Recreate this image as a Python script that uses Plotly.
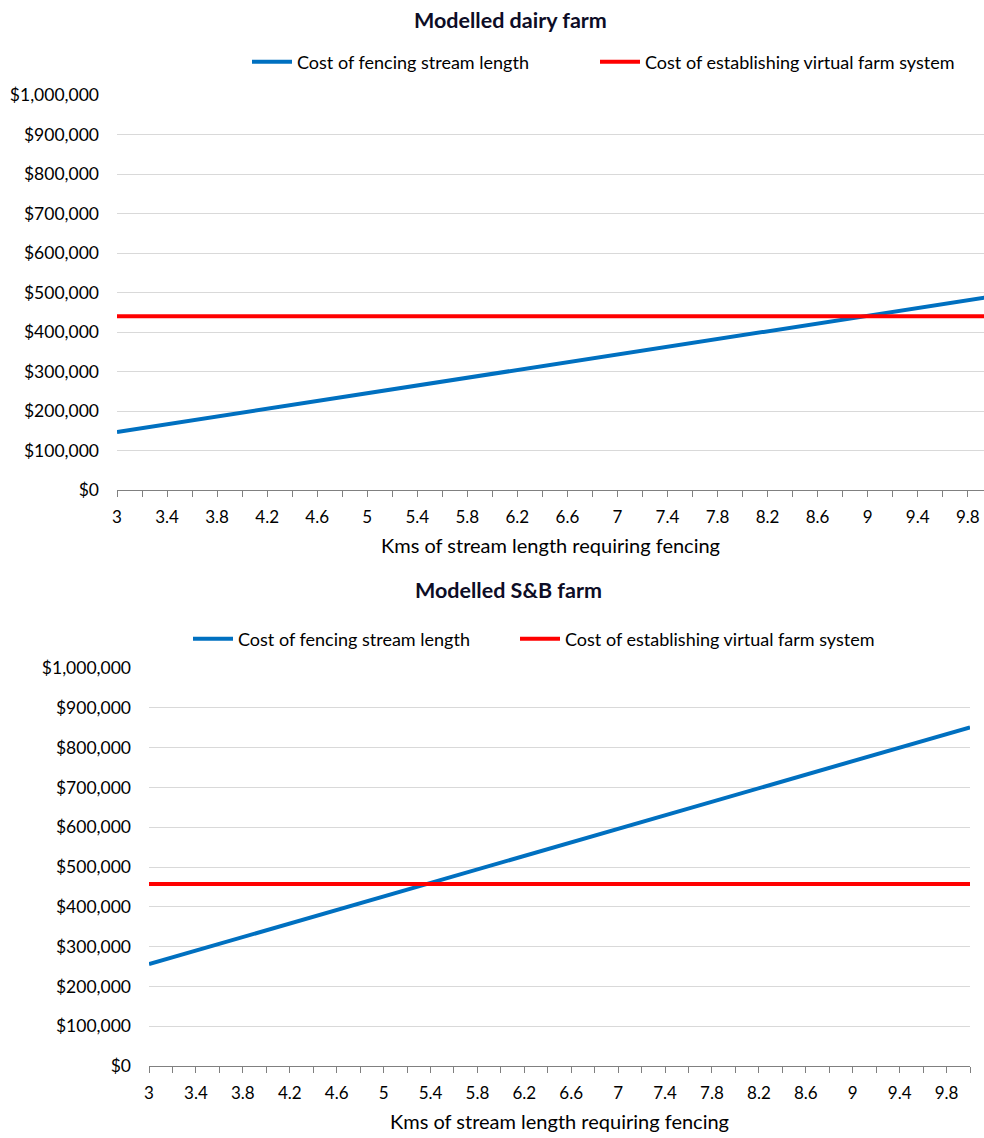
import plotly.graph_objects as go

# ---- data ----
kms = [3, 4, 5, 6, 7, 8, 9, 10]
dairy_fencing_cost = [147000, 196000, 245000, 294000, 343000, 392000, 441000, 490000]
dairy_virtual_cost = [440000] * len(kms)
sb_fencing_cost = [256000, 341000, 426000, 511000, 596000, 681000, 766000, 851000]
sb_virtual_cost = [457000] * len(kms)

series_names = ["Cost of fencing stream length", "Cost of establishing virtual farm system"]
chart_titles = ["Modelled dairy farm", "Modelled S&B farm"]
x_title = "Kms of stream length requiring fencing"
y_ticks = [0, 100000, 200000, 300000, 400000, 500000, 600000, 700000, 800000, 900000, 1000000]
y_ticklabels = ["$0", "$100,000", "$200,000", "$300,000", "$400,000", "$500,000",
                "$600,000", "$700,000", "$800,000", "$900,000", "$1,000,000"]

BLUE = "#0070C0"
RED = "#FF0000"
FONT = "Lato"
W, H = 984, 1138

def py(px):
    return 1 - px / H

fig = go.Figure()
fig.add_trace(go.Scatter(x=kms, y=dairy_fencing_cost, mode="lines", name=series_names[0],
                         line=dict(color=BLUE, width=4), xaxis="x", yaxis="y", legend="legend"))
fig.add_trace(go.Scatter(x=kms, y=dairy_virtual_cost, mode="lines", name=series_names[1],
                         line=dict(color=RED, width=4), xaxis="x", yaxis="y", legend="legend2"))
fig.add_trace(go.Scatter(x=kms, y=sb_fencing_cost, mode="lines", name=series_names[0],
                         line=dict(color=BLUE, width=4), xaxis="x2", yaxis="y2", legend="legend3"))
fig.add_trace(go.Scatter(x=kms, y=sb_virtual_cost, mode="lines", name=series_names[1],
                         line=dict(color=RED, width=4), xaxis="x2", yaxis="y2", legend="legend4"))

def xaxis(domain, rng, anchor):
    return dict(domain=domain, range=rng, anchor=anchor, tickmode="linear", tick0=3, dtick=0.4,
                ticks="outside", ticklen=6, tickcolor="#808080", showline=True, linecolor="#808080",
                linewidth=1, showgrid=False, zeroline=False, ticklabelstandoff=6,
                minor=dict(dtick=0.2, tick0=3, ticks="outside", ticklen=6, tickcolor="#808080", showgrid=False),
                tickfont=dict(family=FONT, size=17, color="#000"),
                title=dict(text=x_title, font=dict(family=FONT, size=20, color="#000"), standoff=12))

def yaxis(domain, anchor):
    return dict(domain=domain, range=[0, 1000000], anchor=anchor, tickmode="array",
                tickvals=y_ticks, ticktext=y_ticklabels, showgrid=True, gridcolor="#d9d9d9",
                gridwidth=1, zeroline=False, showline=False, ticks="",
                ticklabelstandoff=17,
                tickfont=dict(family=FONT, size=17.5, color="#000"))

def legend(xpx, ypx):
    return dict(orientation="h", x=xpx / W, y=py(ypx), xanchor="left", yanchor="middle",
                font=dict(family=FONT, size=18, color="#000"), itemwidth=40,
                bgcolor="rgba(0,0,0,0)")

fig.update_layout(
    width=W, height=H,
    margin=dict(l=0, r=0, t=0, b=0, autoexpand=False),
    paper_bgcolor="white", plot_bgcolor="white",
    xaxis=xaxis([117 / W, 1.0], [3, 9.93], "y"),
    yaxis=yaxis([py(490), py(95)], "x"),
    xaxis2=xaxis([149 / W, 970 / W], [3, 10], "y2"),
    yaxis2=yaxis([py(1066), py(668)], "x2"),
    legend=legend(247, 62),
    legend2=legend(595, 62),
    legend3=legend(188, 639),
    legend4=legend(515, 639),
    annotations=[
        dict(text="<b>" + chart_titles[0] + "</b>", x=510 / W, y=py(20), xref="paper", yref="paper",
             showarrow=False, font=dict(family=FONT, size=21.5, color="#0d0d26"), xanchor="center", yanchor="middle"),
        dict(text="<b>" + chart_titles[1] + "</b>", x=508 / W, y=py(590), xref="paper", yref="paper",
             showarrow=False, font=dict(family=FONT, size=21.5, color="#0d0d26"), xanchor="center", yanchor="middle"),
    ],
    showlegend=True,
)

fig.write_html("out.html")
